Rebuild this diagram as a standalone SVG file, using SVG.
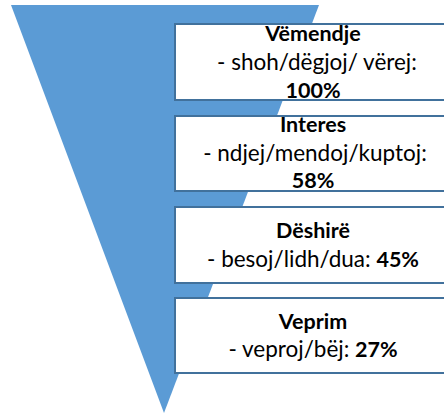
<svg xmlns="http://www.w3.org/2000/svg" width="444" height="415" viewBox="0 0 444 415">
<style>
.box{fill:#FFFFFF;stroke:#41719C;stroke-width:2}
.t{font-family:Lato,"Open Sans","Liberation Sans",sans-serif;font-size:22.5px;fill:#000000;text-anchor:middle}
.b{font-weight:bold;font-size:21.5px}
</style>
<rect width="444" height="415" fill="#FFFFFF"/>
<g id="funnel">
<polygon points="11,5 319,5 164,413" fill="#5B9BD5"/>
</g>
<g id="node-vemendje">
<rect class="box" x="175" y="24" width="280" height="76"/>
<text class="t b" x="313" y="41">Vëmendje</text>
<text class="t" x="317" y="70">- shoh/dëgjoj/ vërej:</text>
<text class="t b" x="313" y="98">100%</text>
</g>
<g id="node-interes">
<rect class="box" x="175" y="116" width="280" height="75"/>
<text class="t b" x="313" y="132">Interes</text>
<text class="t" x="315" y="161">- ndjej/mendoj/kuptoj:</text>
<text class="t b" x="313" y="188">58%</text>
</g>
<g id="node-deshire">
<rect class="box" x="175" y="207" width="280" height="76"/>
<text class="t b" x="313" y="238">Dëshirë</text>
<text class="t" x="313" y="267">- besoj/lidh/dua: <tspan class="b">45%</tspan></text>
</g>
<g id="node-veprim">
<rect class="box" x="175" y="298" width="280" height="75"/>
<text class="t b" x="313" y="329">Veprim</text>
<text class="t" x="313" y="357">- veproj/bëj: <tspan class="b">27%</tspan></text>
</g>
</svg>
